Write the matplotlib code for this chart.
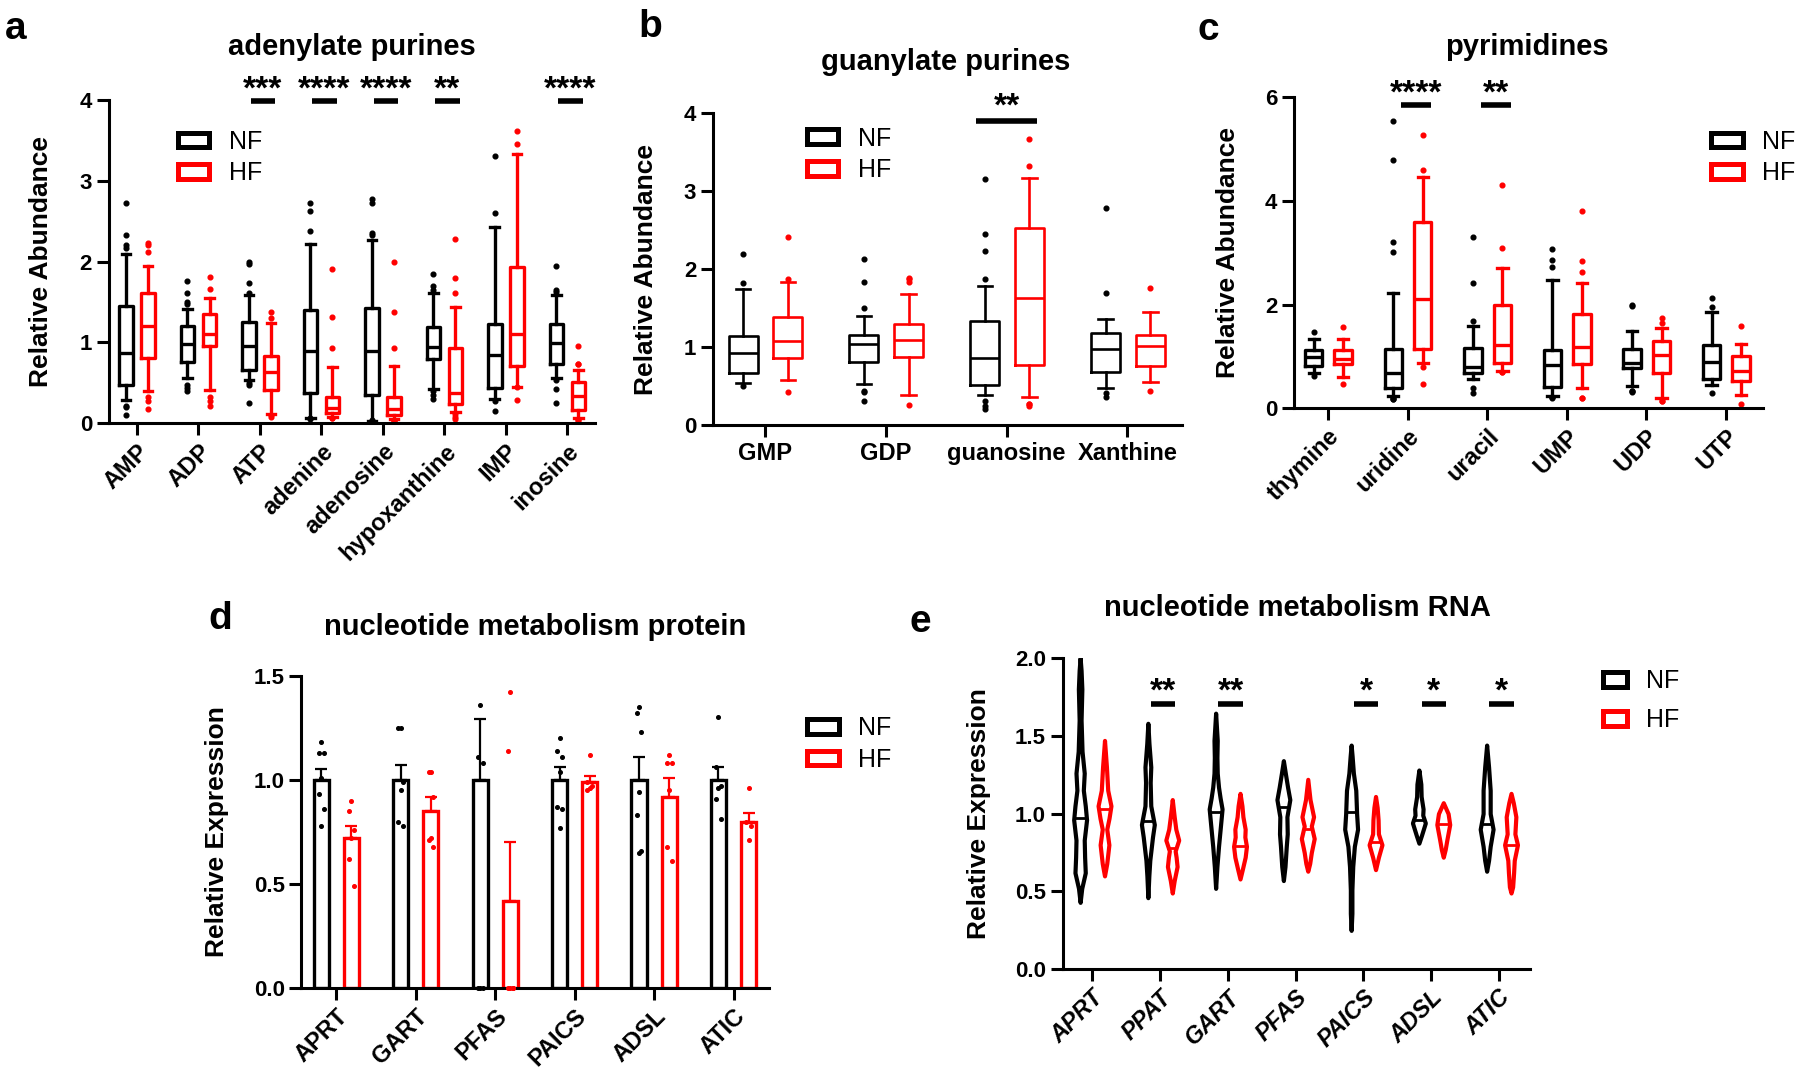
import numpy as np
import matplotlib.pyplot as plt
from matplotlib.patches import Patch

plt.rcParams['font.family'] = ['Liberation Sans', 'DejaVu Sans']
plt.rcParams['font.weight'] = 'bold'
plt.rcParams['axes.linewidth'] = 2.2

BLACK = '#000000'
RED = '#ff0000'

# ---------------- a: adenylate purines (box plots) ----------------
a_cats = ['AMP', 'ADP', 'ATP', 'adenine', 'adenosine', 'hypoxanthine', 'IMP', 'inosine']
a_nf_q1 = [0.47, 0.76, 0.66, 0.37, 0.35, 0.80, 0.44, 0.73]
a_nf_med = [0.87, 0.98, 0.96, 0.89, 0.89, 0.94, 0.85, 0.99]
a_nf_q3 = [1.45, 1.20, 1.25, 1.40, 1.43, 1.19, 1.23, 1.23]
a_nf_lo = [0.29, 0.56, 0.54, 0.06, 0.03, 0.43, 0.30, 0.56]
a_nf_hi = [2.10, 1.42, 1.59, 2.22, 2.27, 1.61, 2.43, 1.59]
a_nf_out = [[2.73, 2.33, 2.20, 2.17, 0.22, 0.20, 0.10],
            [1.76, 1.61, 1.50, 1.47, 0.47, 0.44, 0.40],
            [2.00, 1.97, 1.74, 1.61, 0.50, 0.47, 0.25],
            [2.73, 2.63, 2.38, 0.06, 0.05],
            [2.78, 2.73, 2.35, 2.33, 0.04, 0.02, 0.02],
            [1.85, 1.70, 1.65, 0.40, 0.35, 0.30],
            [3.31, 2.60, 0.27, 0.15],
            [1.94, 1.65, 1.62, 0.53, 0.43, 0.25]]
a_hf_q1 = [0.81, 0.96, 0.41, 0.13, 0.10, 0.24, 0.71, 0.16]
a_hf_med = [1.20, 1.11, 0.64, 0.19, 0.18, 0.37, 1.11, 0.34]
a_hf_q3 = [1.61, 1.35, 0.83, 0.33, 0.32, 0.93, 1.93, 0.51]
a_hf_lo = [0.40, 0.41, 0.12, 0.08, 0.05, 0.14, 0.45, 0.06]
a_hf_hi = [1.94, 1.55, 1.24, 0.70, 0.71, 1.44, 3.33, 0.66]
a_hf_out = [[2.23, 2.20, 2.12, 0.33, 0.28, 0.18],
            [1.81, 1.66, 0.33, 0.28, 0.21],
            [1.38, 1.30, 0.10, 0.08],
            [1.91, 1.32, 0.93, 0.07, 0.06],
            [1.99, 1.38, 0.93, 0.03, 0.02, 0.03],
            [2.28, 1.80, 1.61, 0.12, 0.08, 0.05],
            [3.62, 3.46, 0.45, 0.29],
            [0.96, 0.73, 0.73, 0.04, 0.04]]
a_sig = [('ATP', '***'), ('adenine', '****'), ('adenosine', '****'),
         ('hypoxanthine', '**'), ('inosine', '****')]

# ---------------- b: guanylate purines ----------------
b_cats = ['GMP', 'GDP', 'guanosine', 'Xanthine']
b_nf_q1 = [0.67, 0.81, 0.51, 0.68]
b_nf_med = [0.92, 1.04, 0.86, 0.98]
b_nf_q3 = [1.14, 1.16, 1.33, 1.18]
b_nf_lo = [0.54, 0.53, 0.38, 0.48]
b_nf_hi = [1.74, 1.40, 1.78, 1.36]
b_nf_out = [[2.19, 1.82, 0.50],
            [2.13, 1.84, 1.50, 0.43, 0.42, 0.31],
            [3.16, 2.45, 2.23, 1.88, 0.31, 0.24, 0.21],
            [2.78, 1.70, 0.41, 0.36]]
b_hf_q1 = [0.86, 0.87, 0.77, 0.76]
b_hf_med = [1.08, 1.09, 1.63, 1.01]
b_hf_q3 = [1.39, 1.30, 2.53, 1.16]
b_hf_lo = [0.58, 0.39, 0.36, 0.55]
b_hf_hi = [1.83, 1.68, 3.17, 1.45]
b_hf_out = [[2.41, 1.87, 0.42],
            [1.89, 1.87, 1.83, 0.26],
            [3.67, 3.32, 0.27, 0.25, 0.27],
            [1.76, 0.44]]
b_sig = [('guanosine', '**')]

# ---------------- c: pyrimidines ----------------
c_cats = ['thymine', 'uridine', 'uracil', 'UMP', 'UDP', 'UTP']
c_nf_q1 = [0.82, 0.40, 0.69, 0.42, 0.77, 0.56]
c_nf_med = [0.99, 0.69, 0.80, 0.84, 0.88, 0.90]
c_nf_q3 = [1.13, 1.14, 1.16, 1.13, 1.14, 1.23]
c_nf_lo = [0.68, 0.23, 0.56, 0.24, 0.43, 0.45]
c_nf_hi = [1.34, 2.23, 1.59, 2.48, 1.49, 1.85]
c_nf_out = [[1.48, 0.62],
            [5.55, 4.80, 3.20, 3.02, 0.18, 0.20, 0.17],
            [3.30, 2.42, 1.68, 0.40, 0.30],
            [3.07, 2.87, 2.72, 0.20, 0.22, 0.22],
            [2.00, 1.98, 0.33, 0.32, 0.33],
            [2.12, 1.95, 0.30]]
c_hf_q1 = [0.86, 1.14, 0.88, 0.85, 0.68, 0.53]
c_hf_med = [0.95, 2.10, 1.23, 1.19, 1.03, 0.72]
c_hf_q3 = [1.13, 3.59, 1.99, 1.82, 1.30, 1.00]
c_hf_lo = [0.60, 0.87, 0.71, 0.39, 0.19, 0.26]
c_hf_hi = [1.33, 4.47, 2.70, 2.41, 1.54, 1.25]
c_hf_out = [[1.56, 0.47],
            [5.27, 4.60, 0.80, 0.47],
            [4.30, 3.10, 0.70, 0.70],
            [3.80, 2.85, 2.63, 0.19, 0.19],
            [1.75, 1.65, 0.15, 0.15],
            [1.58, 0.08]]
c_sig = [('uridine', '****'), ('uracil', '**')]

# ---------------- d: nucleotide metabolism protein (bars) ----------------
d_cats = ['APRT', 'GART', 'PFAS', 'PAICS', 'ADSL', 'ATIC']
d_nf_mean = [1.00, 1.00, 1.00, 1.00, 1.00, 1.00]
d_nf_sem = [0.05, 0.07, 0.29, 0.06, 0.11, 0.06]
d_hf_mean = [0.72, 0.85, 0.42, 0.99, 0.92, 0.80]
d_hf_sem = [0.06, 0.07, 0.28, 0.03, 0.09, 0.04]
d_nf_pts = [[1.18, 1.13, 1.13, 1.01, 0.93, 0.86, 0.78],
            [1.25, 1.25, 0.99, 0.95, 0.80, 0.78],
            [1.36, 1.11, 1.08, 0.00, 0.00, 0.00],
            [1.20, 1.14, 1.11, 1.04, 0.87, 0.86, 0.77],
            [1.35, 1.32, 1.23, 0.94, 0.83, 0.66, 0.65],
            [1.30, 1.06, 0.97, 0.96, 0.91, 0.81]]
d_hf_pts = [[0.90, 0.85, 0.76, 0.72, 0.62, 0.49],
            [1.04, 1.04, 0.92, 0.72, 0.71, 0.68],
            [1.42, 1.14, 0.00, 0.00, 0.00, 0.00],
            [1.12, 0.99, 0.97, 0.96, 0.95],
            [1.12, 1.08, 1.08, 0.95, 0.68, 0.61],
            [0.96, 0.80, 0.78, 0.71]]

# ---------------- e: nucleotide metabolism RNA (violins) ----------------
e_cats = ['APRT', 'PPAT', 'GART', 'PFAS', 'PAICS', 'ADSL', 'ATIC']
e_nf_y = [[0.43, 0.52, 0.62, 0.72, 0.83, 0.96, 1.05, 1.15, 1.26, 1.40, 1.60, 1.80, 1.92, 2.00],
          [0.46, 0.60, 0.70, 0.85, 0.93, 1.05, 1.20, 1.30, 1.45, 1.58],
          [0.52, 0.66, 0.79, 0.92, 1.03, 1.10, 1.17, 1.26, 1.36, 1.47, 1.56, 1.645],
          [0.57, 0.66, 0.79, 0.87, 0.98, 1.09, 1.17, 1.26, 1.34],
          [0.25, 0.36, 0.51, 0.66, 0.79, 0.90, 1.00, 1.15, 1.26, 1.37, 1.44],
          [0.81, 0.86, 0.94, 0.99, 1.03, 1.11, 1.19, 1.28],
          [0.63, 0.70, 0.79, 0.90, 1.00, 1.15, 1.30, 1.44]]
e_nf_w = [[0, 0.25, 0.8, 0.7, 0.64, 1.0, 0.8, 0.5, 0.64, 0.3, 0.15, 0.27, 0.15, 0],
          [0, 0.15, 0.3, 0.72, 1.0, 0.45, 0.36, 0.45, 0.17, 0],
          [0, 0.2, 0.45, 0.75, 1.0, 0.7, 0.45, 0.25, 0.2, 0.25, 0.12, 0],
          [0, 0.25, 0.45, 0.6, 0.55, 1.0, 0.65, 0.3, 0],
          [0, 0.12, 0.12, 0.25, 0.5, 1.0, 0.85, 0.72, 0.35, 0.15, 0],
          [0, 0.4, 1.0, 0.6, 0.65, 0.35, 0.3, 0],
          [0, 0.3, 0.55, 1.0, 0.55, 0.55, 0.3, 0]]
e_nf_med = [0.97, 0.95, 1.01, 1.04, 1.01, 0.96, 0.93]
e_hf_y = [[0.60, 0.68, 0.80, 0.90, 0.97, 1.05, 1.15, 1.30, 1.47],
          [0.49, 0.57, 0.66, 0.72, 0.76, 0.83, 0.90, 0.98, 1.09],
          [0.58, 0.64, 0.72, 0.79, 0.85, 0.90, 0.98, 1.05, 1.13],
          [0.63, 0.68, 0.75, 0.84, 0.92, 0.98, 1.09, 1.22],
          [0.64, 0.72, 0.80, 0.87, 0.96, 1.04, 1.11],
          [0.72, 0.77, 0.83, 0.93, 1.00, 1.07],
          [0.49, 0.53, 0.62, 0.70, 0.80, 0.87, 0.98, 1.07, 1.13]]
e_hf_w = [[0, 0.35, 0.68, 0.35, 0.7, 1.0, 0.5, 0.3, 0],
          [0, 0.3, 0.75, 0.6, 0.45, 1.0, 0.55, 0.3, 0],
          [0, 0.35, 0.8, 1.0, 0.75, 0.8, 0.45, 0.3, 0],
          [0, 0.3, 0.55, 1.0, 0.55, 0.9, 0.35, 0],
          [0, 0.45, 1.0, 0.45, 0.4, 0.25, 0],
          [0, 0.3, 0.55, 1.0, 0.75, 0],
          [0, 0.25, 0.4, 0.5, 1.0, 0.6, 0.75, 0.35, 0]]
e_hf_med = [1.03, 0.78, 0.79, 0.90, 0.82, 0.93, 0.80]
e_sig = [('PPAT', '**'), ('GART', '**'), ('PAICS', '*'), ('ADSL', '*'), ('ATIC', '*')]


fig = plt.figure(figsize=(18, 10.78), dpi=100)


def px(x, y):
    return x / 1800, 1 - y / 1078


def make_ax(l, t, r, b, cats, xlim, ylim, yticks, ylabels):
    ax = fig.add_axes([l / 1800, 1 - b / 1078, (r - l) / 1800, (b - t) / 1078])
    ax.spines[['top', 'right']].set_visible(False)
    ax.tick_params(width=2.2, length=8.5, labelsize=16)
    ax.set_xlim(*xlim)
    ax.set_ylim(*ylim)
    ax.set_yticks(yticks)
    ax.set_yticklabels(ylabels)
    ax.set_xticks(range(len(cats)))
    return ax


def rotated_labels(ax, cats, italic=False):
    ax.set_xticklabels(cats, rotation=45, ha='right', va='top', rotation_mode='anchor',
                       fontsize=17, fontstyle='italic' if italic else 'normal')


def draw_boxes(ax, q1, med, q3, lo, hi, out, offset, color, width, capw, lw):
    stats = [dict(med=med[i], q1=q1[i], q3=q3[i], whislo=lo[i], whishi=hi[i], fliers=out[i])
             for i in range(len(q1))]
    ax.bxp(stats, positions=np.arange(len(q1)) + offset, widths=width, capwidths=capw,
           manage_ticks=False,
           boxprops=dict(color=color, linewidth=lw),
           whiskerprops=dict(color=color, linewidth=lw),
           capprops=dict(color=color, linewidth=lw),
           medianprops=dict(color=color, linewidth=lw),
           flierprops=dict(marker='o', markersize=3.4, markerfacecolor=color,
                           markeredgecolor=color))


def add_sig(ax, cats, sig, shift, half, y_bar, y_txt, lw=4, fs=24):
    for name, label in sig:
        xc = cats.index(name) + shift
        ax.plot([xc - half, xc + half], [y_bar, y_bar], color=BLACK, lw=lw,
                solid_capstyle='butt', clip_on=False)
        ax.text(xc, y_txt, label, ha='center', va='center', fontsize=fs,
                fontweight='bold', clip_on=False)


def add_legend(ax, x, y, spacing=0.3, hl=1.26):
    handles = [Patch(facecolor='white', edgecolor=BLACK, linewidth=3.6),
               Patch(facecolor='white', edgecolor=RED, linewidth=3.6)]
    ax.legend(handles, ['NF', 'HF'], loc='center left', bbox_to_anchor=(x, y),
              frameon=False, borderpad=0, borderaxespad=0, handlelength=hl,
              handleheight=0.53, handletextpad=0.78, labelspacing=spacing,
              prop={'size': 18, 'weight': 'normal'})


def ylab(ax, text, x):
    ax.set_ylabel(text, fontsize=19, fontweight='bold')
    ax.yaxis.set_label_coords(x, 0.5)


# ---- panel a ----
ax = make_ax(108.7, 100, 595, 423.3, a_cats, (-0.46, 7.45), (0, 4), [0, 1, 2, 3, 4],
             ['0', '1', '2', '3', '4'])
draw_boxes(ax, a_nf_q1, a_nf_med, a_nf_q3, a_nf_lo, a_nf_hi, a_nf_out, -0.18, BLACK, 0.22, 0.14, 2.4)
draw_boxes(ax, a_hf_q1, a_hf_med, a_hf_q3, a_hf_lo, a_hf_hi, a_hf_out, 0.18, RED, 0.22, 0.14, 2.4)
rotated_labels(ax, a_cats)
add_sig(ax, a_cats, a_sig, 0.05, 0.2, 3.99, 4.12)
add_legend(ax, 0.1425, 0.822)
ylab(ax, 'Relative Abundance', -0.114)

# ---- panel b ----
ax = make_ax(712.9, 113.3, 1181.7, 425, b_cats, (-0.43, 3.45), (0, 4), [0, 1, 2, 3, 4],
             ['0', '1', '2', '3', '4'])
draw_boxes(ax, b_nf_q1, b_nf_med, b_nf_q3, b_nf_lo, b_nf_hi, b_nf_out, -0.18, BLACK, 0.24, 0.12, 1.9)
draw_boxes(ax, b_hf_q1, b_hf_med, b_hf_q3, b_hf_lo, b_hf_hi, b_hf_out, 0.19, RED, 0.24, 0.12, 1.9)
ax.set_xticklabels(b_cats, fontsize=17)
add_sig(ax, b_cats, b_sig, 0.0, 0.25, 3.90, 4.08)
add_legend(ax, 0.200, 0.868)
ylab(ax, 'Relative Abundance', -0.118)

# ---- panel c ----
ax = make_ax(1293.8, 97.3, 1762.6, 408.3, c_cats, (-0.43, 5.46), (0, 6), [0, 2, 4, 6],
             ['0', '2', '4', '6'])
draw_boxes(ax, c_nf_q1, c_nf_med, c_nf_q3, c_nf_lo, c_nf_hi, c_nf_out, -0.18, BLACK, 0.22, 0.13, 2.4)
draw_boxes(ax, c_hf_q1, c_hf_med, c_hf_q3, c_hf_lo, c_hf_hi, c_hf_out, 0.19, RED, 0.22, 0.13, 2.4)
rotated_labels(ax, c_cats)
add_sig(ax, c_cats, c_sig, 0.11, 0.19, 5.85, 6.06)
add_legend(ax, 0.890, 0.806)
ylab(ax, 'Relative Abundance', -0.114)

# ---- panel d ----
ax = make_ax(301.4, 675.7, 769.3, 988.3, d_cats, (-0.44, 5.45), (0, 1.5), [0, 0.5, 1.0, 1.5],
             ['0.0', '0.5', '1.0', '1.5'])
xs = np.arange(len(d_cats))
jit = [0.0, -0.03, 0.03]
for off, mean, sem, pts, col in [(-0.19, d_nf_mean, d_nf_sem, d_nf_pts, BLACK),
                                 (0.19, d_hf_mean, d_hf_sem, d_hf_pts, RED)]:
    ax.bar(xs + off, mean, width=0.19, facecolor='white', edgecolor=col, linewidth=2.4)
    ax.errorbar(xs + off, mean, yerr=[np.zeros(len(sem)), sem], fmt='none', ecolor=col,
                elinewidth=1.6, capsize=4, capthick=1.6)
    for i, vals in enumerate(pts):
        ax.plot([i + off + jit[j % 3] for j in range(len(vals))], vals, 'o', color=col,
                markersize=2.6, clip_on=False, zorder=4)
rotated_labels(ax, d_cats)
add_legend(ax, 1.081, 0.781)
ylab(ax, 'Relative Expression', -0.155)

# ---- panel e ----
ax = make_ax(1062.5, 657.9, 1530, 969.3, e_cats, (-0.44, 6.46), (0, 2.0),
             [0, 0.5, 1.0, 1.5, 2.0], ['0.0', '0.5', '1.0', '1.5', '2.0'])
vw = 0.19
for off, ys, ws, meds, col in [(-0.18, e_nf_y, e_nf_w, e_nf_med, BLACK),
                               (0.18, e_hf_y, e_hf_w, e_hf_med, RED)]:
    stats = [dict(coords=np.array(ys[i]), vals=np.array(ws[i]), mean=meds[i],
                  median=meds[i], min=ys[i][0], max=ys[i][-1]) for i in range(len(ys))]
    parts = ax.violin(stats, positions=np.arange(len(ys)) + off, widths=vw,
                      showextrema=False)
    for body in parts['bodies']:
        body.set_facecolor('white')
        body.set_edgecolor(col)
        body.set_linewidth(3.0)
        body.set_alpha(1)
        body.set_joinstyle('round')
    for i in range(len(ys)):
        hw = 0.5 * vw * np.interp(meds[i], ys[i], ws[i]) / max(ws[i])
        ax.plot([i + off - hw, i + off + hw], [meds[i], meds[i]], color=col, lw=2)
rotated_labels(ax, e_cats, italic=True)
add_sig(ax, e_cats, e_sig, 0.04, 0.18, 1.705, 1.78)
add_legend(ax, 1.156, 0.862, spacing=0.6, hl=0.95)
ylab(ax, 'Relative Expression', -0.154)

# ---- titles and panel letters ----
for (x, y), t in [((352, 47), 'adenylate purines'), ((946, 62), 'guanylate purines'),
                  ((1527, 47), 'pyrimidines'), ((535, 627), 'nucleotide metabolism protein'),
                  ((1297, 608), 'nucleotide metabolism RNA')]:
    fig.text(*px(x, y), t, ha='center', va='center', fontsize=21, fontweight='bold')
for (x, y), t in [((16, 29), 'a'), ((650, 27), 'b'), ((1208, 30), 'c'),
                  ((220, 619), 'd'), ((920, 622), 'e')]:
    fig.text(*px(x, y), t, ha='center', va='center', fontsize=28, fontweight='bold')

fig.savefig('out.png', dpi=100)
